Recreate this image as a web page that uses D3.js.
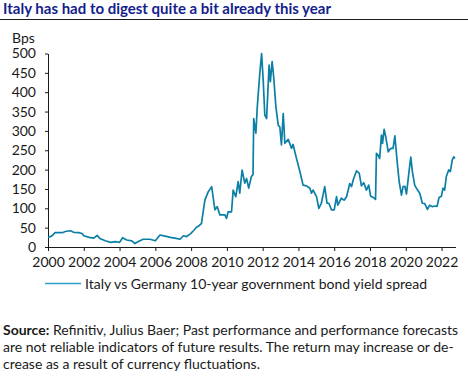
<!DOCTYPE html>
<html lang="en">
    <head>
        <meta charset="utf-8">
        <title>Italy spread</title>
        <script src="https://d3js.org/d3.v7.min.js"></script>
        <style type="text/css">
            body { margin: 0; background: white; }
            text { font-family: Lato, sans-serif; fill: #1a1a1a; }
            .axis path, .axis line { stroke: #1a1a1a; }
            .axis text { font-family: Lato, sans-serif; font-size: 14px; fill: #1a1a1a; }
            .line { fill: none; stroke: #0b7fa5; stroke-width: 1.7px; stroke-linejoin: round; }
        </style>
    </head>
    <body>
        <script type="text/javascript">

            // decimal years and spread in bps
            const years = [
                2000.0, 2000.2, 2000.4, 2000.8, 2000.97, 2001.25, 2001.44, 2001.72, 2001.9, 2002.0,
                2002.3, 2002.56, 2002.75, 2002.9, 2003.2, 2003.5, 2003.75, 2004.0, 2004.17, 2004.4,
                2004.68, 2004.86, 2005.05, 2005.32, 2005.7, 2006.0, 2006.26, 2006.55, 2006.84, 2007.1,
                2007.38, 2007.57, 2007.75, 2007.96, 2008.17, 2008.3, 2008.45, 2008.58, 2008.77, 2008.96,
                2009.15, 2009.33, 2009.46, 2009.61, 2009.89, 2009.98, 2010.07, 2010.26, 2010.35, 2010.5,
                2010.63, 2010.72, 2010.85, 2011.0, 2011.1, 2011.22, 2011.37, 2011.46, 2011.5, 2011.62,
                2011.7, 2011.84, 2011.94, 2012.03, 2012.12, 2012.22, 2012.36, 2012.43, 2012.53, 2012.62,
                2012.74, 2012.87, 2012.96, 2013.05, 2013.15, 2013.24, 2013.43, 2013.61, 2013.7, 2013.89,
                2014.08, 2014.26, 2014.45, 2014.64, 2014.73, 2014.82, 2015.01, 2015.14, 2015.28, 2015.47,
                2015.6, 2015.7, 2015.85, 2016.0, 2016.13, 2016.2, 2016.4, 2016.55, 2016.69, 2016.87,
                2016.97, 2017.06, 2017.25, 2017.4, 2017.52, 2017.65, 2017.8, 2017.93, 2018.03, 2018.18,
                2018.31, 2018.36, 2018.44, 2018.54, 2018.64, 2018.7, 2018.79, 2018.88, 2019.02, 2019.1,
                2019.2, 2019.29, 2019.39, 2019.52, 2019.63, 2019.76, 2019.85, 2019.95, 2020.04, 2020.17,
                2020.28, 2020.37, 2020.5, 2020.63, 2020.78, 2020.93, 2021.06, 2021.21, 2021.34, 2021.49,
                2021.62, 2021.75, 2021.86, 2021.99, 2022.08, 2022.17, 2022.27, 2022.4, 2022.49, 2022.6,
                2022.68, 2022.75
            ];
            const spread = [
                25, 28, 37, 37, 40, 42, 38, 37, 35, 29,
                25, 23, 30, 22, 16, 12, 14, 12, 24, 18,
                16, 9, 14, 20, 20, 16, 31, 28, 25, 23,
                20, 29, 27, 34, 44, 51, 55, 61, 121, 143,
                156, 96, 104, 83, 83, 74, 91, 91, 147, 130,
                169, 139, 199, 165, 177, 152, 182, 187, 332, 294,
                362, 449, 500, 431, 341, 332, 470, 427, 479, 437,
                362, 315, 310, 264, 345, 268, 278, 255, 265, 229,
                195, 160, 158, 152, 139, 147, 130, 100, 113, 156,
                113, 113, 96, 96, 130, 108, 126, 121, 130, 164,
                156, 173, 197, 190, 158, 166, 147, 160, 132, 128,
                123, 242, 238, 229, 289, 268, 304, 285, 246, 252,
                255, 255, 287, 220, 169, 134, 156, 157, 137, 190,
                232, 195, 160, 149, 139, 113, 112, 97, 108, 104,
                106, 105, 128, 131, 152, 147, 183, 199, 195, 225,
                233, 229
            ];
            const yTicks = [0, 50, 100, 150, 200, 250, 300, 350, 400, 450, 500];
            const xTicks = [2000, 2002, 2004, 2006, 2008, 2010, 2012, 2014, 2016, 2018, 2020, 2022];
            const seriesName = "Italy vs Germany 10-year government bond yield spread";
            const title = "Italy has had to digest quite a bit already this year";
            const sourceLines = [
                ["Source:", " Refinitiv, Julius Baer; Past performance and performance forecasts"],
                ["", "are not reliable indicators of future results. The return may increase or de-"],
                ["", "crease as a result of currency fluctuations."]
            ];

            const w = 468;
            const h = 380;
            const data = years.map((y, i) => ({year: y, value: spread[i]}));

            const svg = d3.select("body")
                .append("svg")
                .attr("width", w)
                .attr("height", h);

            // title and rule
            svg.append("text")
               .attr("x", 3)
               .attr("y", 14)
               .attr("font-size", "15px")
               .attr("font-weight", "bold")
               .style("fill", "#141e8c")
               .text(title);

            svg.append("line")
               .attr("x1", 0).attr("x2", w)
               .attr("y1", 19.5).attr("y2", 19.5)
               .attr("stroke", "#1a1a1a")
               .attr("stroke-width", 1);

            //scales
            const xScale = d3.scaleLinear()
                             .domain([2000, 2022.78])
                             .range([48, 455.5]);

            const yScale = d3.scaleLinear()
                             .domain([0, 500])
                             .range([247, 53.5]);

            //axes
            const bottomAxis = d3.axisBottom(xScale)
                                 .tickValues(xTicks)
                                 .tickFormat(d3.format("d"))
                                 .tickSize(4)
                                 .tickSizeOuter(0)
                                 .tickPadding(6);

            svg.append("g")
               .attr("class", "axis")
               .attr("transform", "translate(0,247)")
               .call(bottomAxis);

            const leftAxis = d3.axisLeft(yScale)
                               .tickValues(yTicks)
                               .tickSize(3)
                               .tickSizeOuter(0)
                               .tickPadding(9);

            svg.append("g")
               .attr("class", "axis")
               .attr("transform", "translate(48,0)")
               .call(leftAxis);

            svg.append("text")
               .attr("x", 12)
               .attr("y", 43)
               .attr("font-size", "14px")
               .text("Bps");

            // the series
            const coords = d3.line()
                             .x(d => xScale(d.year))
                             .y(d => yScale(d.value));

            svg.append("path")
               .datum(data)
               .attr("class", "line")
               .attr("d", coords);

            // legend
            svg.append("line")
               .attr("x1", 45).attr("x2", 81)
               .attr("y1", 283.5).attr("y2", 283.5)
               .attr("stroke", "#2a9fca")
               .attr("stroke-width", 1.5);

            svg.append("text")
               .attr("x", 85)
               .attr("y", 288.5)
               .attr("font-size", "14px")
               .text(seriesName);

            // source note
            const src = svg.append("g");
            sourceLines.forEach((l, i) => {
                const t = src.append("text")
                             .attr("x", 3)
                             .attr("y", 335 + i * 17)
                             .attr("font-size", "14px");
                if (l[0]) {
                    t.append("tspan").attr("font-weight", "bold").text(l[0]);
                }
                t.append("tspan").text(l[1]);
            });

        </script>
    </body>
</html>
